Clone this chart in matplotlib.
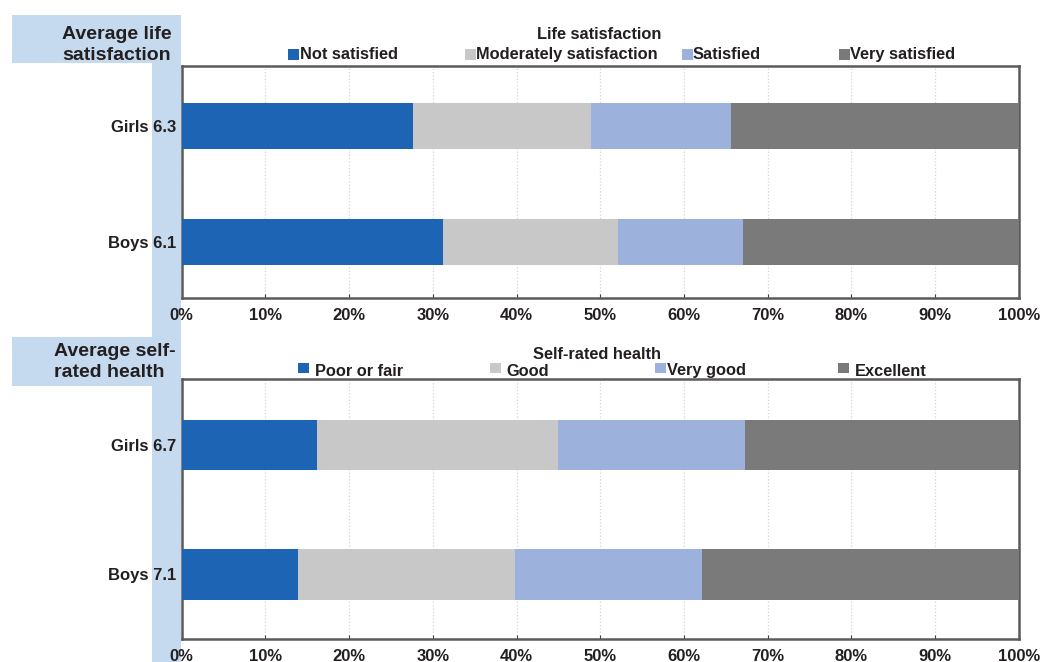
import matplotlib
matplotlib.use("Agg")
import matplotlib.pyplot as plt
from matplotlib.patches import Rectangle

plt.rcParams['font.family'] = ['Liberation Sans', 'DejaVu Sans']
plt.rcParams['font.weight'] = 'bold'

# data: segment shares (%), Boys first then Girls
life_labels = ['Boys 6.1', 'Girls 6.3']
life_cats = ['Not satisfied', 'Moderately satisfaction', 'Satisfied', 'Very satisfied']
life_not = [31.2, 27.6]
life_mod = [20.9, 21.3]
life_sat = [14.9, 16.7]
life_very = [33.0, 34.4]

health_labels = ['Boys 7.1', 'Girls 6.7']
health_cats = ['Poor or fair', 'Good', 'Very good', 'Excellent']
health_poor = [13.9, 16.2]
health_good = [25.9, 28.7]
health_vgood = [22.4, 22.4]
health_exc = [37.8, 32.7]

colors = ['#1e64b4', '#c8c8c8', '#9cb1dc', '#7a7a7a']
strip_col = '#c5daef'
txt_col = '#231f20'

W, H = 1041, 662
fig = plt.figure(figsize=(W / 100, H / 100), dpi=100)


def fx(x):
    return x / W


def fy(y):
    return 1 - y / H


def box(x0, y0, x1, y1, color):
    fig.add_artist(Rectangle((fx(x0), fy(y1)), fx(x1 - x0), (y1 - y0) / H,
                             transform=fig.transFigure, color=color, lw=0, zorder=0))


# light blue header boxes and strip
box(152, 15, 181, 662, strip_col)
box(12, 15, 181, 63, strip_col)
box(12, 337, 181, 386, strip_col)

for line, yb in [('Average life', 39), ('satisfaction', 60)]:
    fig.text(fx(62), fy(yb), line, ha='left', va='baseline',
             fontsize=14, fontweight='bold', color=txt_col)
for line, yb in [('Average self-', 356), ('rated health', 377)]:
    fig.text(fx(54), fy(yb), line, ha='left', va='baseline',
             fontsize=14, fontweight='bold', color=txt_col)


def panel(rect, labels, series, ylim, height):
    ax = fig.add_axes(rect)
    ax.set_zorder(2)
    y = list(range(len(labels)))
    left = [0] * len(labels)
    for vals, c in zip(series, colors):
        ax.barh(y, vals, left=left, height=height, color=c, zorder=3)
        left = [l + v for l, v in zip(left, vals)]
    ax.set_xlim(0, 100)
    ax.set_ylim(*ylim)
    ax.set_yticks(y)
    ax.set_yticklabels(labels, fontsize=12, fontweight='bold', color=txt_col)
    ax.set_xticks(range(0, 101, 10))
    ax.set_xticklabels([f'{t}%' for t in range(0, 101, 10)], fontsize=12,
                       fontweight='bold', color=txt_col)
    ax.tick_params(axis='y', length=0, pad=4)
    ax.tick_params(axis='x', length=3, direction='in', color='#404040', pad=7)
    ax.grid(axis='x', color='#d4d4d4', linestyle=':', linewidth=0.9, zorder=0)
    ax.set_axisbelow(True)
    for s in ax.spines.values():
        s.set_color('#5a5a5a')
        s.set_linewidth(1.8)
    return ax


panel([fx(181.5), fy(298), fx(1019 - 181.5), (298 - 66) / H], life_labels,
      [life_not, life_mod, life_sat, life_very], (-0.485, 1.517), 0.40)
panel([fx(181.5), fy(639), fx(1019 - 181.5), (639 - 379) / H], health_labels,
      [health_poor, health_good, health_vgood, health_exc], (-0.5, 1.513), 0.39)


def legend(title, tx, ty, cats, xs, gaps, sq_top, text_base):
    fig.text(fx(tx), fy(ty), title, ha='center', va='baseline', fontsize=11.8,
             fontweight='bold', color=txt_col)
    for cat, x, g, c in zip(cats, xs, gaps, colors):
        fig.add_artist(Rectangle((fx(x), fy(sq_top + 10.5)), fx(10.5), 10.5 / H,
                                 transform=fig.transFigure, color=c, lw=0))
        fig.text(fx(x + 10.5 + g), fy(text_base), cat, ha='left', va='baseline',
                 fontsize=11.8, fontweight='bold', color=txt_col)


legend('Life satisfaction', 599, 39, life_cats, [288, 465, 682, 839],
       [1, 1, 0.5, 0.5], 49, 59)
legend('Self-rated health', 597, 359, health_cats, [298, 490, 655, 838],
       [6.5, 6, 1.5, 6], 362.5, 375.5)

fig.savefig('out.png', dpi=100)
